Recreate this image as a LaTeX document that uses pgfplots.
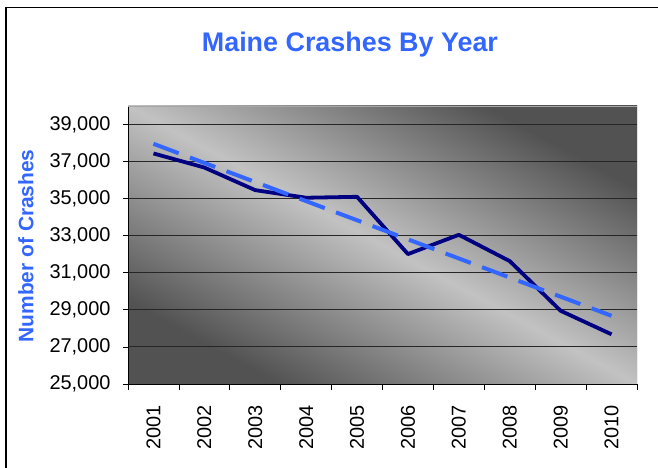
\documentclass[border=0pt]{standalone}
\usepackage{pgfplots}
\pgfplotsset{compat=1.18}
\usepackage{fontspec}
\setmainfont{Liberation Sans}
\definecolor{titleblue}{RGB}{51,102,255}
\definecolor{navyline}{RGB}{0,0,128}
\definecolor{bgdark}{RGB}{82,82,82}
\definecolor{bglight}{RGB}{194,194,194}
\begin{document}
\begin{tikzpicture}
\useasboundingbox (0,0) rectangle (658bp,468bp);
\draw[line width=1.5bp, black] (6bp,0) -- (6bp,460.5bp) -- (658bp,460.5bp);
% plot-area background: diagonal gradient stretched over the plot area
\begin{scope}[transform canvas={shift={(128bp,84bp)}, xscale=1.83094}]
  \shade[top color=bgdark, bottom color=bgdark, middle color=bglight, shading angle=-45] (0,0) rectangle (278bp,278bp);
\end{scope}
\begin{axis}[
  at={(128bp,84bp)}, anchor=south west,
  scale only axis, width=509bp, height=278bp,
  xmin=0.5, xmax=10.5, ymin=25000, ymax=40000,
  xtick={1,2,3,4,5,6,7,8,9,10},
  xticklabels={2001,2002,2003,2004,2005,2006,2007,2008,2009,2010},
  minor xtick={0.5,1.5,2.5,3.5,4.5,5.5,6.5,7.5,8.5,9.5,10.5},
  major x tick style={draw=none},
  ytick={25000,27000,29000,31000,33000,35000,37000,39000},
  scaled y ticks=false,
  /pgf/number format/assume math mode=true,
  yticklabel style={/pgf/number format/.cd, 1000 sep={,}},
  tick label style={font=\fontsize{20}{23}\selectfont, black},
  xticklabel style={rotate=90, anchor=east},
  xticklabel shift=13bp,
  yticklabel shift=9bp,
  tick align=outside,
  major tick length=5bp,
  minor tick length=6bp,
  tick style={black, line width=0.8bp},
  ymajorgrids,
  grid style={black!85, line width=0.9bp},
  axis x line*=bottom, axis y line*=left,
  axis line style={-, black, line width=0.9bp},
  title={\textbf{Maine Crashes By Year}},
  title style={at={(axis description cs:0.436,1.176)}, anchor=base, font=\fontsize{27}{30}\selectfont\bfseries, text=titleblue},
  ylabel={\textbf{Number of Crashes}},
  every axis y label/.style={at={(axis description cs:-0.186,0.497)}, rotate=90, anchor=base, font=\fontsize{21}{24}\selectfont\bfseries, text=titleblue},
]
\draw[gray!70, line width=0.8bp] (rel axis cs:0,1) -- (rel axis cs:1,1) -- (rel axis cs:1,0);
\addplot[navyline, line width=3.8bp, line join=round] coordinates {
  (1,37440) (2,36680) (3,35460) (4,35050) (5,35100)
  (6,32010) (7,33050) (8,31630) (9,28950) (10,27680)
};
\addplot[titleblue, line width=4bp, dash pattern=on 27bp off 12bp] coordinates {
  (1,37960) (10,28680)
};
\end{axis}
\end{tikzpicture}
\end{document}
